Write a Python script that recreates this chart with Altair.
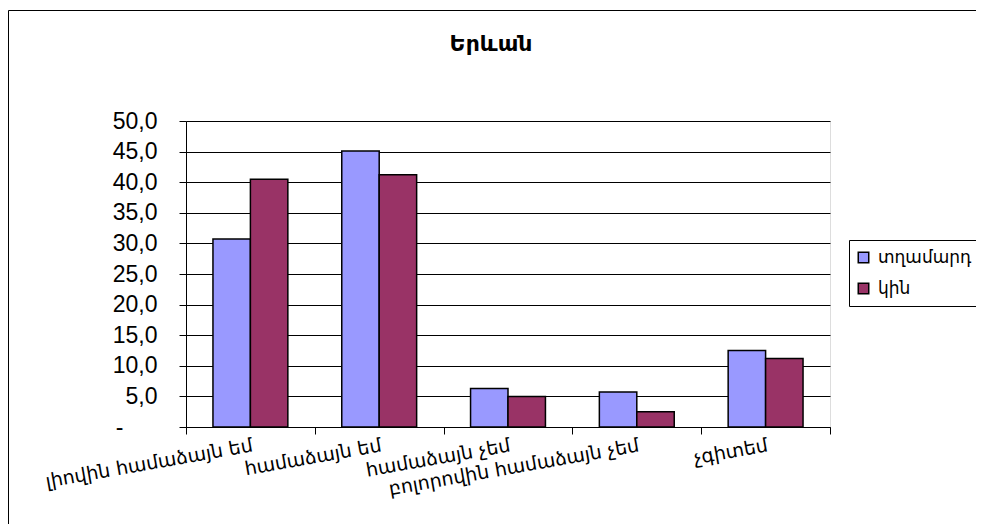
import altair as alt
import pandas as pd

title_text = "Երևան"
categories = ["լիովին համաձայն եմ", "համաձայն եմ", "համաձայն չեմ",
              "բոլորովին համաձայն չեմ", "չգիտեմ"]
series = ["տղամարդ", "կին"]
men = [30.7, 45.1, 6.3, 5.7, 12.5]
women = [40.5, 41.2, 5.0, 2.5, 11.2]
y_ticks = [0, 5, 10, 15, 20, 25, 30, 35, 40, 45, 50]
colors = ["#9999FF", "#993366"]

rows = []
for c, m, w in zip(categories, men, women):
    rows.append({"cat": c, "ser": series[0], "val": m})
    rows.append({"cat": c, "ser": series[1], "val": w})
df = pd.DataFrame(rows)

frame = alt.Chart(pd.DataFrame({"a": [0]})).mark_rect(
    filled=False, stroke="black", strokeWidth=1
).encode(
    x=alt.value(-177.5), x2=alt.value(900),
    y=alt.value(-110.5), y2=alt.value(500),
)

blank = "\u2800"
bars = alt.Chart(df).mark_bar(stroke="black", strokeWidth=1.5).encode(
    x=alt.X("cat:N", sort=categories, title=None,
            scale=alt.Scale(paddingInner=0, paddingOuter=0),
            axis=alt.Axis(tickBand="extent", tickSize=7, tickColor="black",
                          domainColor="black", labelAngle=-10, labelAlign="right",
                          labelBaseline="top", labelFont="DejaVu Sans",
                          labelFontSize=19, labelColor="black", labelPadding=2,
                          labelLimit=0, labelOverlap=False, grid=False)),
    xOffset=alt.XOffset("ser:N", sort=series,
                        scale=alt.Scale(paddingInner=0, paddingOuter=0.72)),
    y=alt.Y("val:Q", title=None,
            scale=alt.Scale(domain=[0, 50], nice=False),
            axis=alt.Axis(values=y_ticks, tickSize=7, tickColor="black",
                          domainColor="black", grid=True, gridColor="black",
                          gridOpacity=1, labelFont="Liberation Sans",
                          labelFontSize=23, labelColor="black", labelPadding=22,
                          labelExpr="datum.value == 0 ? '-" + blank * 2 + "' : replace(format(datum.value, '.1f'), '.', ',')")),
    color=alt.Color("ser:N", sort=series, title=None,
                    scale=alt.Scale(domain=series, range=colors),
                    legend=alt.Legend(orient="none", legendX=663, legendY=119,
                                      strokeColor="black", fillColor="white",
                                      padding=9, symbolType="square",
                                      symbolSize=110, symbolStrokeColor="black",
                                      symbolStrokeWidth=1.5, labelFont="DejaVu Sans",
                                      labelFontSize=17, labelColor="black",
                                      rowPadding=13, symbolOffset=-3,
                                      labelOffset=6)),
)

chart = alt.layer(frame, bars).properties(
    width=644, height=306,
    autosize=alt.AutoSizeParams(type="none"),
    padding={"left": 178, "top": 113, "right": 146, "bottom": 97},
    title=alt.TitleParams(title_text, font="DejaVu Sans", fontSize=22,
                          fontWeight="bold", color="black", anchor="middle",
                          dx=-17, offset=-46),
).configure_view(fill="#C0C0C0", stroke=None).configure(background="white")

chart.save("out.html", embed_options={"renderer": "svg", "actions": False})
